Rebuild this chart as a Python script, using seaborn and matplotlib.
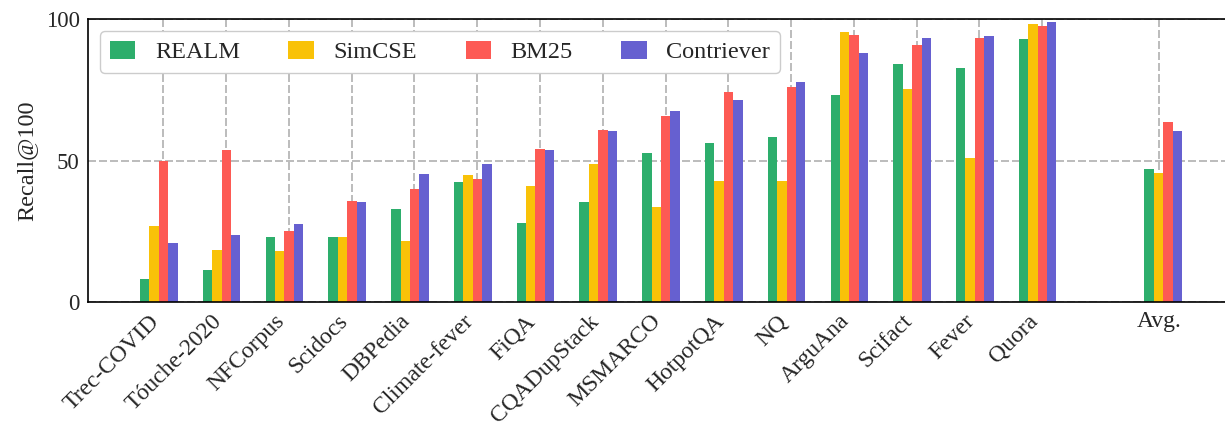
import pandas as pd
import matplotlib
matplotlib.use('Agg')
import matplotlib.pyplot as plt
import seaborn as sns

# Data
datasets = ['Trec-COVID', 'Tóuche-2020', 'NFCorpus', 'Scidocs', 'DBPedia', 'Climate-fever',
            'FiQA', 'CQADupStack', 'MSMARCO', 'HotpotQA', 'NQ', 'ArguAna', 'Scifact',
            'Fever', 'Quora', 'Avg.']
methods = ['REALM', 'SimCSE', 'BM25', 'Contriever']

realm = [8.2, 11.4, 23.0, 23.0, 32.9, 42.4, 28.0, 35.4, 52.7, 56.2, 58.3, 73.2, 84.1, 82.7, 92.9, 47.0]
simcse = [26.9, 18.5, 18.1, 23.0, 21.6, 44.9, 41.1, 48.8, 33.6, 42.8, 42.8, 95.4, 75.3, 50.9, 98.2, 45.6]
bm25 = [49.9, 53.8, 25.2, 35.8, 40.0, 43.5, 54.1, 60.8, 65.7, 74.2, 76.0, 94.4, 90.8, 93.2, 97.5, 63.6]
contriever = [20.9, 23.7, 27.6, 35.4, 45.3, 48.8, 53.7, 60.4, 67.5, 71.4, 77.7, 88.0, 93.2, 94.0, 98.9, 60.4]

colors = ['#2DAE6C', '#F9C208', '#FD5A54', '#6660D0']

rows = []
for m, vals in zip(methods, [realm, simcse, bm25, contriever]):
    for d, v in zip(datasets, vals):
        rows.append({'dataset': d, 'method': m, 'recall': v})
df = pd.DataFrame(rows)

# empty slot before the average group
order = datasets[:-1] + [' '] + ['Avg.']

sns.set_style('white')
plt.rcParams['font.family'] = ['Liberation Serif', 'DejaVu Serif']

fig = plt.figure(figsize=(12.25, 4.23), dpi=100)
ax = fig.add_axes([0.0718, 0.2853, 0.93, 0.670])

sns.barplot(data=df, x='dataset', y='recall', hue='method', order=order,
            hue_order=methods, palette=colors, width=0.6, saturation=1,
            linewidth=0, ax=ax, legend=True)

ax.set_xlim(-1.13, 17.02)
ax.set_ylim(0, 100)
ax.set_yticks([0, 50, 100])
ax.set_ylabel('Recall@100', fontsize=17.5, labelpad=6)
ax.set_xlabel('')

# tick positions (grid lines sit slightly off the group centers)
tick_pos = [i + 0.072 for i in range(15)] + [15.93]
ax.set_xticks(tick_pos)
ax.set_xticklabels(datasets, fontsize=17)
for i, lab in enumerate(ax.get_xticklabels()):
    if i < 15:
        lab.set_rotation(45)
        lab.set_ha('right')
    else:
        lab.set_rotation(0)
        lab.set_ha('center')

ax.tick_params(axis='y', direction='in', length=7, width=1.3, labelsize=16.5, pad=6)
ax.tick_params(axis='x', direction='in', length=0, pad=6)

ax.grid(True, color='#b0b0b0', linestyle=(0, (4.8, 1.8)), linewidth=1.2)
ax.set_axisbelow(True)

for s in ['left', 'bottom', 'top']:
    ax.spines[s].set_color('black')
    ax.spines[s].set_linewidth(1.2)
ax.spines['right'].set_visible(False)

handles, labels = ax.get_legend_handles_labels()
ax.legend(handles, labels, loc='upper left', ncol=4, fontsize=17.5,
          handlelength=1.05, handleheight=0.75, handletextpad=0.8,
          columnspacing=2.0, framealpha=1, edgecolor='#cccccc', fancybox=True)

plt.savefig('out.png', dpi=100)
